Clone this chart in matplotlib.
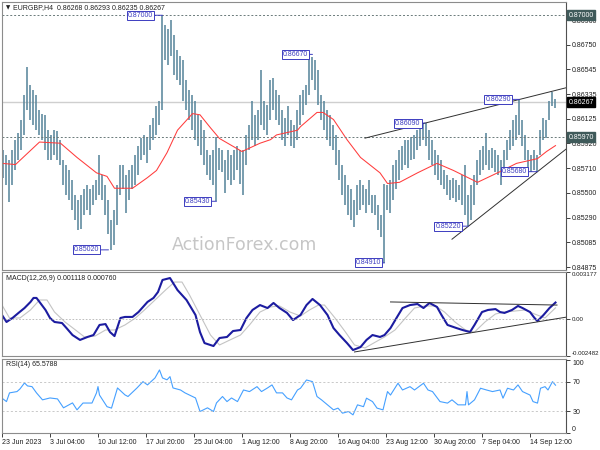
import numpy as np
import matplotlib
matplotlib.use("Agg")
import matplotlib.pyplot as plt
import matplotlib.transforms as mtransforms

plt.rcParams['font.family'] = ['Liberation Sans', 'DejaVu Sans']

# ---------------- data ----------------
symbol_title = "EURGBP,H4  0.86268 0.86293 0.86235 0.86267"
macd_title = "MACD(12,26,9) 0.001118 0.000760"
rsi_title = "RSI(14) 65.5788"

# price bars, one entry per two H4 bars
bar_high = [0.8586, 0.8582, 0.8578, 0.8586, 0.8595, 0.8601, 0.8612, 0.8633, 0.8656, 0.8641,
            0.8637, 0.8633, 0.8620, 0.8617, 0.8616, 0.8603, 0.8599, 0.8603, 0.8602, 0.8595,
            0.8578, 0.8574, 0.8569, 0.8561, 0.8548, 0.8544, 0.8548, 0.8553, 0.8557, 0.8553,
            0.8557, 0.8561, 0.8582, 0.8565, 0.8557, 0.8544, 0.8527, 0.8536, 0.8557, 0.8574,
            0.8574, 0.8565, 0.8569, 0.8574, 0.8582, 0.8590, 0.8596, 0.8599, 0.8597, 0.8607,
            0.8613, 0.8623, 0.8628, 0.8700, 0.8692, 0.8688, 0.8696, 0.8683, 0.8671, 0.8666,
            0.8662, 0.8645, 0.8637, 0.8633, 0.8628, 0.8616, 0.8612, 0.8603, 0.8586, 0.8582,
            0.8586, 0.8597, 0.8588, 0.8586, 0.8578, 0.8586, 0.8582, 0.8586, 0.8590, 0.8586,
            0.8586, 0.8599, 0.8607, 0.8628, 0.8616, 0.8620, 0.8654, 0.8628, 0.8624, 0.8645,
            0.8647, 0.8637, 0.8633, 0.8620, 0.8613, 0.8623, 0.8612, 0.8607, 0.8620, 0.8633,
            0.8637, 0.8641, 0.8667, 0.8665, 0.8662, 0.8654, 0.8633, 0.8628, 0.8620, 0.8616,
            0.8607, 0.8599, 0.8586, 0.8574, 0.8565, 0.8557, 0.8553, 0.8544, 0.8557, 0.8561,
            0.8557, 0.8553, 0.8561, 0.8548, 0.8548, 0.8540, 0.8531, 0.8558, 0.8557, 0.8561,
            0.8574, 0.8578, 0.8586, 0.8590, 0.8595, 0.8595, 0.8597, 0.8599, 0.8603, 0.8607,
            0.8609, 0.8609, 0.8603, 0.8595, 0.8586, 0.8582, 0.8578, 0.8569, 0.8565, 0.8561,
            0.8563, 0.8561, 0.8557, 0.8565, 0.8574, 0.8548, 0.8557, 0.8565, 0.8578, 0.8586,
            0.8590, 0.8601, 0.8586, 0.8588, 0.8586, 0.8582, 0.8578, 0.8586, 0.8595, 0.8603,
            0.8612, 0.8616, 0.8629, 0.8612, 0.8599, 0.8586, 0.8582, 0.8586, 0.8582, 0.8603,
            0.8613, 0.8612, 0.8628, 0.8635, 0.8629]
bar_low = [0.8563, 0.8557, 0.8542, 0.8557, 0.8569, 0.8578, 0.8586, 0.8599, 0.8620, 0.8612,
           0.8607, 0.8603, 0.8599, 0.8595, 0.8586, 0.8578, 0.8578, 0.8582, 0.8578, 0.8574,
           0.8557, 0.8548, 0.8544, 0.8536, 0.8527, 0.8519, 0.8520, 0.8531, 0.8536, 0.8531,
           0.8540, 0.8544, 0.8548, 0.8544, 0.8531, 0.8515, 0.8502, 0.8506, 0.8523, 0.8548,
           0.8553, 0.8533, 0.8544, 0.8553, 0.8557, 0.8565, 0.8578, 0.8582, 0.8575, 0.8586,
           0.8595, 0.8599, 0.8607, 0.8620, 0.8662, 0.8658, 0.8666, 0.8650, 0.8645, 0.8641,
           0.8628, 0.8620, 0.8612, 0.8603, 0.8595, 0.8590, 0.8582, 0.8574, 0.8565, 0.8561,
           0.8557, 0.8543, 0.8569, 0.8568, 0.8550, 0.8561, 0.8557, 0.8561, 0.8569, 0.8558,
           0.8548, 0.8574, 0.8586, 0.8595, 0.8590, 0.8595, 0.8607, 0.8603, 0.8599, 0.8612,
           0.8620, 0.8612, 0.8607, 0.8595, 0.8590, 0.8599, 0.8590, 0.8588, 0.8595, 0.8607,
           0.8616, 0.8624, 0.8633, 0.8645, 0.8637, 0.8624, 0.8612, 0.8603, 0.8595, 0.8590,
           0.8586, 0.8574, 0.8561, 0.8548, 0.8540, 0.8531, 0.8527, 0.8521, 0.8531, 0.8536,
           0.8540, 0.8533, 0.8540, 0.8533, 0.8531, 0.8519, 0.8513, 0.8491, 0.8536, 0.8533,
           0.8544, 0.8553, 0.8561, 0.8569, 0.8574, 0.8571, 0.8578, 0.8579, 0.8586, 0.8590,
           0.8595, 0.8590, 0.8578, 0.8574, 0.8565, 0.8561, 0.8557, 0.8553, 0.8548, 0.8544,
           0.8546, 0.8542, 0.8544, 0.8540, 0.8531, 0.8522, 0.8527, 0.8540, 0.8557, 0.8565,
           0.8569, 0.8574, 0.8569, 0.8571, 0.8568, 0.8565, 0.8557, 0.8565, 0.8578, 0.8586,
           0.8590, 0.8595, 0.8599, 0.8590, 0.8578, 0.8569, 0.8568, 0.8569, 0.8568, 0.8582,
           0.8595, 0.8596, 0.8612, 0.8623, 0.8622]

# moving average (red)
ma_bar = [0, 9, 25, 39, 50, 63, 70, 75, 87, 97, 103, 110, 117, 127, 132, 139, 145, 160,
          172, 179, 183, 197, 199, 210, 214, 221, 230, 239, 252, 257, 265, 277, 290, 301,
          317, 332, 343, 357, 363, 369]
ma_val = [0.8575, 0.8574, 0.8593, 0.8592, 0.8580, 0.8567, 0.8564, 0.8554, 0.8554, 0.8563,
          0.8569, 0.8584, 0.8603, 0.8617, 0.8616, 0.8605, 0.8596, 0.8585, 0.8592, 0.8595,
          0.8599, 0.8603, 0.8606, 0.8618, 0.8618, 0.8612, 0.8595, 0.8580, 0.8567, 0.8558,
          0.8559, 0.8567, 0.8575, 0.8569, 0.8559, 0.8568, 0.8575, 0.8579, 0.8585, 0.8590]

# price levels
level_dashed = [0.87000, 0.85970]
level_current = 0.86267
price_ticks = [0.86960, 0.86750, 0.86545, 0.86335, 0.86125, 0.85920, 0.85710, 0.85500,
               0.85290, 0.85085, 0.84875]
price_range = (0.84850, 0.87112)

# trend lines (bar, price)
tl_upper_bar = [242, 376]
tl_upper_val = [0.85963, 0.86388]
tl_lower_bar = [300, 376]
tl_lower_val = [0.8511, 0.8587]

# swing labels
ann_text = ["0.87000", "0.86670", "0.85430", "0.85020", "0.84910", "0.86090", "0.86290",
            "0.85220", "0.85680"]
ann_price = [0.8700, 0.8667, 0.8543, 0.8502, 0.8491, 0.8609, 0.8629, 0.8522, 0.8568]
ann_bar = [107, 207, 143, 71, 255, 282, 345, 311, 357]

# MACD
macd_bar = [0, 3, 7, 11, 15, 19, 21, 23, 25, 29, 32, 35, 40, 43, 47, 52, 57, 61, 65, 69,
            72, 75, 79, 82, 87, 91, 97, 101, 104, 107, 112, 117, 123, 129, 132, 135, 141,
            145, 150, 154, 159, 163, 167, 172, 177, 181, 185, 190, 194, 199, 203, 207, 212,
            217, 221, 225, 230, 234, 239, 243, 247, 252, 255, 259, 263, 267, 272, 277, 281,
            285, 290, 293, 297, 303, 307, 312, 315, 320, 324, 329, 332, 335, 340, 344, 347,
            352, 355, 357, 361, 365, 369]
macd_val = [0.00028, -0.00019, 0.00008, 0.00042, 0.00075, 0.00116, 0.00143, 0.00143,
            0.00116, 0.00062, 0.00008, -0.00019, -0.00026, -0.00060, -0.00107, -0.00140,
            -0.00120, -0.00107, -0.00039, -0.00033, -0.00087, -0.00114, 0.00008, 0.00015,
            0.00015, 0.00048, 0.00116, 0.00143, 0.00183, 0.00264, 0.00277, 0.00196, 0.00129,
            0.00028, -0.00087, -0.00161, -0.00181, -0.00127, -0.00120, -0.00080, -0.00073,
            0.00008, 0.00062, 0.00095, 0.00075, 0.00109, 0.00075, 0.00042, -0.00006, 0.00028,
            0.00095, 0.00136, 0.00095, 0.00028, -0.00060, -0.00107, -0.00161, -0.00208,
            -0.00188, -0.00140, -0.00107, -0.00120, -0.00107, -0.00060, 0.00008, 0.00075,
            0.00095, 0.00102, 0.00075, 0.00109, 0.00082, 0.00028, -0.00039, -0.00060,
            -0.00073, -0.00087, -0.00039, 0.00048, 0.00062, 0.00068, 0.00048, 0.00042,
            0.00062, 0.00089, 0.00075, 0.00048, 0.00008, -0.00013, 0.00028, 0.00075, 0.00112]
signal_bar = [0, 5, 12, 19, 25, 30, 35, 42, 49, 55, 62, 69, 75, 82, 89, 95, 102, 109, 115,
              120, 125, 132, 139, 145, 152, 159, 165, 172, 179, 185, 192, 199, 205, 211, 215,
              222, 229, 235, 242, 249, 255, 262, 269, 275, 282, 289, 295, 302, 309, 315, 322,
              329, 335, 342, 349, 355, 362, 369]
signal_val = [0.00095, 0.00008, 0.00008, 0.00062, 0.00129, 0.00129, 0.00048, -0.00019,
              -0.00073, -0.00120, -0.00114, -0.00073, -0.00073, -0.00039, 0.00008, 0.00062,
              0.00129, 0.00196, 0.00250, 0.00250, 0.00163, 0.00028, -0.00107, -0.00174,
              -0.00140, -0.00107, -0.00039, 0.00048, 0.00082, 0.00089, 0.00048, 0.00021,
              0.00062, 0.00095, 0.00095, 0.00008, -0.00087, -0.00174, -0.00194, -0.00154,
              -0.00120, -0.00073, 0.00008, 0.00075, 0.00089, 0.00089, 0.00048, -0.00019,
              -0.00073, -0.00087, -0.00019, 0.00035, 0.00048, 0.00055, 0.00062, 0.00035,
              0.00008, 0.00076]
macd_range = (-0.002482, 0.003177)
macd_tl_upper_bar = [259, 370]
macd_tl_upper_val = [0.00116, 0.00095]
macd_tl_lower_bar = [235, 377]
macd_tl_lower_val = [-0.00221, 0.00015]

# RSI
rsi_bar = [0, 3, 5, 10, 12, 15, 17, 20, 23, 27, 32, 37, 41, 47, 50, 54, 60, 63, 64, 65, 70,
           73, 77, 82, 84, 90, 94, 97, 102, 105, 107, 110, 112, 114, 119, 122, 125, 129, 132,
           137, 141, 143, 147, 150, 153, 157, 161, 165, 170, 173, 177, 180, 183, 187, 190,
           193, 197, 199, 203, 207, 210, 213, 217, 221, 224, 227, 231, 234, 237, 241, 243,
           247, 250, 254, 257, 259, 264, 267, 272, 275, 281, 284, 287, 292, 297, 300, 304,
           309, 310, 311, 315, 319, 323, 327, 332, 334, 337, 341, 344, 347, 352, 354, 357,
           359, 362, 364, 367, 369]
rsi_val = [47.7, 43, 55, 56.8, 60.5, 68.7, 64.6, 63.6, 55, 45.4, 48, 46.7, 34.4, 41.2, 31.6,
           41, 41, 55, 63.7, 52, 36, 34, 61.8, 52.2, 50, 61.8, 70.5, 66, 75.6, 86.6, 75.6, 73,
           77.4, 61.8, 59, 55, 52, 48, 29.3, 34.4, 29.3, 41.2, 50, 43, 48, 43, 59, 56.8, 63.6,
           56.8, 61.8, 66, 55, 55, 48, 45.4, 59, 61.4, 72.8, 70.5, 50, 45.4, 38.5, 31.6, 34,
           27, 29.3, 24.7, 38.5, 36, 47.7, 43, 34, 31.6, 56.8, 52, 68.3, 59, 63.6, 59, 68.3,
           59, 56.8, 43, 40.9, 45.4, 38.5, 38.5, 56.8, 38.5, 45.4, 61.4, 59, 56.8, 59, 47.7,
           61.4, 59, 66, 56.8, 52, 43, 40.9, 61.4, 63.6, 59, 70.5, 65.6]
rsi_levels = [70, 30]
rsi_tick_vals = [100, 70, 30, 0]

# time axis (H4 bar index)
time_tick_bar = [0, 32, 64, 96, 128, 160, 192, 224, 256, 288, 320, 352]
time_tick_labels = ["23 Jun 2023", "3 Jul 04:00", "10 Jul 12:00", "17 Jul 20:00",
                    "25 Jul 04:00", "1 Aug 12:00", "8 Aug 20:00", "16 Aug 04:00",
                    "23 Aug 12:00", "30 Aug 20:00", "7 Sep 04:00", "14 Sep 12:00"]
x_range = (0, 376)

# ---------------- styles ----------------
BAR_C = '#5a879c'
MA_C = '#ff3c3c'
MACD_C = '#1c1ca0'
SIG_C = '#c4c4c4'
RSI_C = '#45a0ff'
LBL_C = '#3c3cc0'
SPINE_C = '#8c8c8c'
FS = 5.0

W, H = 600, 450
fig = plt.figure(figsize=(6, 4.5), dpi=100)
fig.patch.set_facecolor('white')


def px_axes(l, t, r, b):
    return fig.add_axes([l / W, 1 - b / H, (r - l) / W, (b - t) / H])


ax = px_axes(2, 2, 566, 270)
axm = px_axes(2, 272, 566, 356)
axr = px_axes(2, 359, 566, 433)

for a in (ax, axm, axr):
    a.set_xlim(*x_range)
    for s in a.spines.values():
        s.set_color(SPINE_C)
        s.set_linewidth(0.8)
    a.spines['right'].set_color('#505050')
    a.yaxis.tick_right()
    a.tick_params(axis='y', length=3, width=0.6, pad=1.5, labelsize=FS, colors='#202020')
    a.set_xticks([])

# ---- main panel ----
bx = np.arange(len(bar_high)) * 2 + 0.5
ax.vlines(bx, bar_low, bar_high, color=BAR_C, lw=1.15)
ax.plot(ma_bar, ma_val, color=MA_C, lw=0.75)
for lv in level_dashed:
    ax.axhline(lv, color='#6a7a7a', lw=0.7, ls=(0, (2, 2)))
ax.axhline(level_current, color='#cfcfcf', lw=1.0, zorder=0.5)
ax.plot(tl_upper_bar, tl_upper_val, color='#303030', lw=0.7)
ax.plot(tl_lower_bar, tl_lower_val, color='#303030', lw=0.7)
ax.set_ylim(*price_range)
ax.set_yticks(price_ticks)
ax.set_yticklabels([f"{v:.5f}" for v in price_ticks])

ann_gap_px = [8, 3, 5, 8, 2, 3, 7, 6, 9]
for t, p, b, g in zip(ann_text, ann_price, ann_bar, ann_gap_px):
    ax.annotate(t, xy=(b, p), xytext=(-(g + 1.5) * 0.72, 0), textcoords='offset points',
                ha='right', va='center', fontsize=FS, color=LBL_C,
                bbox=dict(boxstyle='square,pad=0.15', fc='white', ec=LBL_C, lw=0.7),
                arrowprops=dict(arrowstyle='-', color=LBL_C, lw=0.7, shrinkA=0, shrinkB=0))

ax.text(0.43, 0.095, "ActionForex.com", transform=ax.transAxes, fontsize=12.5,
        color='#c6c6c6', ha='center', va='center', family=['DejaVu Sans'], zorder=0.4)

ax.text(3.5 / 564, 1 - 6 / 268, "\u25bc", transform=ax.transAxes, fontsize=4,
        color='#202020', va='center', ha='left', family=['DejaVu Sans'])
ax.text(11 / 564, 1 - 6 / 268, symbol_title, transform=ax.transAxes, fontsize=FS,
        color='#202020', va='center', ha='left')

trans_r = mtransforms.blended_transform_factory(ax.transAxes, ax.transData)
hl = [(level_dashed[0], '#3f5a5a'), (level_current, '#000000'), (level_dashed[1], '#3f5a5a')]
for v, c in hl:
    ax.text(1.0 + 2.5 / 564, v, f"{v:.5f}", transform=trans_r, fontsize=FS, color='white',
            va='center', ha='left', clip_on=False, zorder=10,
            bbox=dict(boxstyle='square,pad=0.2', fc=c, ec=c))

# ---- MACD panel ----
axm.plot(signal_bar, signal_val, color=SIG_C, lw=0.8)
axm.plot(macd_bar, macd_val, color=MACD_C, lw=1.5)
axm.axhline(0, color='#b4b4b4', lw=0.6, ls=(0, (2, 2)))
axm.plot(macd_tl_upper_bar, macd_tl_upper_val, color='#303030', lw=0.7)
axm.plot(macd_tl_lower_bar, macd_tl_lower_val, color='#303030', lw=0.7)
axm.set_ylim(*macd_range)
axm.set_yticks([macd_range[1], 0, macd_range[0]])
axm.set_yticklabels([f"{macd_range[1]:.6f}", "0.00", f"{macd_range[0]:.6f}"])
axm.tick_params(axis='y', labelsize=4.4, pad=1.0)
tl = axm.get_yticklabels()
tl[0].set_va('top')
tl[2].set_va('bottom')
axm.text(3.5 / 564, 1 - 7 / 84, macd_title, transform=axm.transAxes, fontsize=FS,
         color='#202020', va='center', ha='left')

# ---- RSI panel ----
axr.plot(rsi_bar, rsi_val, color=RSI_C, lw=0.8)
for lv in rsi_levels:
    axr.axhline(lv, color='#c0c0c0', lw=0.6, ls=(0, (2.5, 2.5)))
axr.set_ylim(-0.3, 101.7)
axr.set_yticks(rsi_tick_vals)
axr.set_yticklabels([str(v) for v in rsi_tick_vals])
rl = axr.get_yticklabels()
rl[0].set_va('top')
rl[3].set_va('bottom')
axr.text(3.5 / 564, 1 - 5.5 / 74, rsi_title, transform=axr.transAxes, fontsize=FS,
         color='#202020', va='center', ha='left')

axr.set_xticks(time_tick_bar)
axr.set_xticklabels(time_tick_labels)
axr.tick_params(axis='x', length=3, width=0.6, pad=1.5, labelsize=FS, colors='#202020')
for lb in axr.get_xticklabels():
    lb.set_ha('left')

fig.savefig('out.png', dpi=100, facecolor='white')
